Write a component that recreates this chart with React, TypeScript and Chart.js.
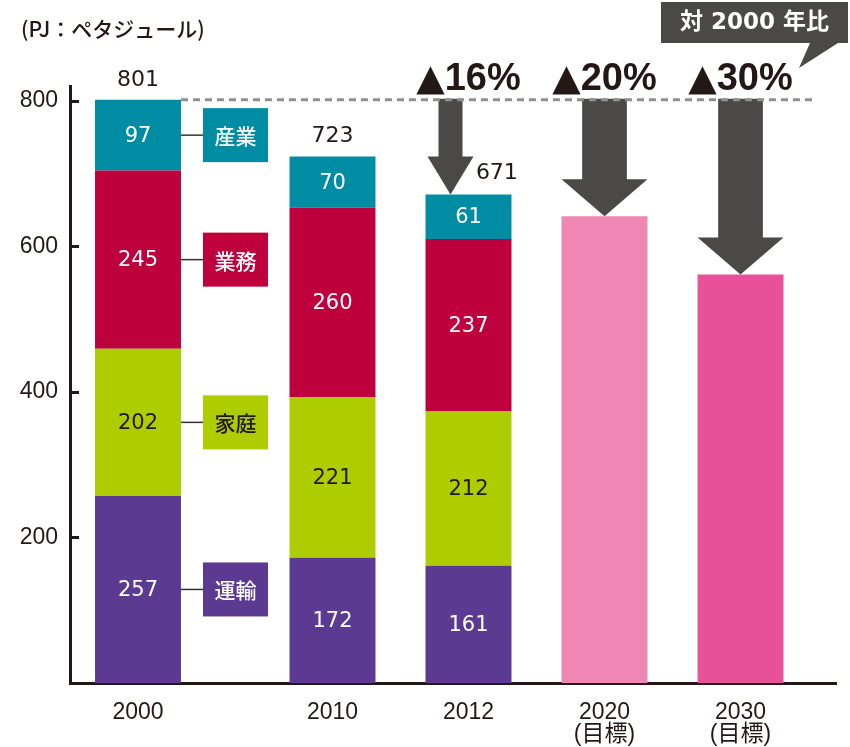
import React, { useEffect, useRef } from 'react';
import { Chart, registerables } from 'chart.js';

Chart.register(...registerables);

// ---------- data ----------
const categories = ['2000', '2010', '2012', '2020', '2030'];
const categorySubLabels = ['', '', '', '(目標)', '(目標)'];
const seriesNames = ['運輸', '家庭', '業務', '産業'];
const transport = [257, 172, 161, null, null];
const household = [202, 221, 212, null, null];
const commercial = [245, 260, 237, null, null];
const industry = [97, 70, 61, null, null];
const targets = [null, null, null, 641, 561];
const reductions = ['', '', '16%', '20%', '30%'];
const yTicks = [200, 400, 600, 800];
const unitLabel = '(PJ：ペタジュール)';
const calloutText = '対 2000 年比';

// ---------- styles ----------
const INK = '#231815';
const ARROW = '#4A4948';
const seriesColors = ['#5C3A91', '#AECD00', '#BE003C', '#008DA3'];
const seriesTextColors = ['#FFFFFF', INK, '#FFFFFF', '#FFFFFF'];
const targetColors = ['rgba(0,0,0,0)', 'rgba(0,0,0,0)', 'rgba(0,0,0,0)', '#EE87B4', '#E8519A'];
const LEGEND_GAP = 0.43; // extra room after the first category for the legend boxes
const slot = (i: number) => i + 0.5 + (i > 0 ? LEGEND_GAP : 0);

const seriesData = [transport, household, commercial, industry];

const overlayPlugin = {
  id: 'overlay',
  afterDatasetsDraw(chart: any) {
    const { ctx, chartArea, scales } = chart;
    const y = scales.y;
    const metas = [0, 1, 2, 3, 4].map((i) => chart.getDatasetMeta(i));
    ctx.save();

    // segment values
    seriesData.forEach((arr, si) => {
      arr.forEach((v, j) => {
        if (v == null) return;
        const bar = metas[si].data[j];
        ctx.font = '500 21px "DejaVu Sans"';
        ctx.fillStyle = seriesTextColors[si];
        ctx.textAlign = 'center';
        ctx.textBaseline = 'middle';
        ctx.fillText(String(v), bar.x, (bar.y + bar.base) / 2 + 1);
      });
    });

    // totals
    const totals = categories.map((_, j) =>
      seriesData.reduce((s, arr) => s + (arr[j] ?? 0), 0)
    );
    totals.forEach((t, j) => {
      if (!t) return;
      const bar = metas[3].data[j];
      const hasArrow = !!reductions[j];
      ctx.font = '22px "DejaVu Sans"';
      ctx.fillStyle = INK;
      ctx.textAlign = 'center';
      ctx.textBaseline = 'bottom';
      ctx.fillText(String(t), bar.x + (hasArrow ? bar.width * 0.33 : 0), bar.y - (hasArrow ? 10 : 9));
    });

    // legend boxes next to first bar
    seriesNames.forEach((name, si) => {
      const bar = metas[si].data[0];
      const right = bar.x + bar.width / 2;
      const cy = (bar.y + bar.base) / 2;
      ctx.strokeStyle = '#333333';
      ctx.lineWidth = 1.5;
      ctx.beginPath();
      ctx.moveTo(right, cy);
      ctx.lineTo(right + 22, cy);
      ctx.stroke();
      ctx.fillStyle = seriesColors[si];
      ctx.fillRect(right + 22, cy - 27, 65, 54);
      ctx.font = '500 21px "Noto Sans CJK JP"';
      ctx.fillStyle = seriesTextColors[si];
      ctx.textAlign = 'center';
      ctx.textBaseline = 'middle';
      ctx.fillText(name, right + 22 + 32.5, cy + 1);
    });

    // arrows
    const baseY = y.getPixelForValue(totals[0]);
    reductions.forEach((r, j) => {
      if (!r) return;
      const stacked = totals[j] > 0;
      const bar = stacked ? metas[3].data[j] : metas[4].data[j];
      let cx = bar.x;
      const top = bar.y;
      let shaftW, headW, headH;
      if (stacked) {
        shaftW = 24; headW = 46; headH = 38; cx -= 18;
      } else {
        shaftW = bar.width * 0.52; headW = bar.width; headH = 37;
      }
      ctx.fillStyle = ARROW;
      ctx.beginPath();
      ctx.moveTo(cx - shaftW / 2, baseY - 1);
      ctx.lineTo(cx + shaftW / 2, baseY - 1);
      ctx.lineTo(cx + shaftW / 2, top - headH);
      ctx.lineTo(cx + headW / 2, top - headH);
      ctx.lineTo(cx, top);
      ctx.lineTo(cx - headW / 2, top - headH);
      ctx.lineTo(cx - shaftW / 2, top - headH);
      ctx.closePath();
      ctx.fill();
    });

    // dashed baseline
    const b0 = metas[3].data[0];
    ctx.strokeStyle = '#8E8E8E';
    ctx.lineWidth = 3;
    ctx.setLineDash([7, 5]);
    ctx.beginPath();
    ctx.moveTo(b0.x + b0.width / 2, baseY);
    ctx.lineTo(chartArea.right - 24, baseY);
    ctx.stroke();
    ctx.setLineDash([]);

    // percentage labels
    reductions.forEach((r, j) => {
      if (!r) return;
      const stacked = totals[j] > 0;
      const bar = stacked ? metas[3].data[j] : metas[4].data[j];
      const triFont = 'bold 37px "DejaVu Sans"';
      const numFont = 'bold 38px "Liberation Sans"';
      ctx.font = triFont;
      const tw = ctx.measureText('▲').width;
      ctx.font = numFont;
      const nw = ctx.measureText(r).width;
      const gap = 0;
      const start = bar.x - (tw + gap + nw) / 2;
      ctx.fillStyle = INK;
      ctx.textAlign = 'left';
      ctx.textBaseline = 'alphabetic';
      ctx.font = triFont;
      ctx.fillText('▲', start, baseY - 10);
      ctx.font = numFont;
      ctx.fillText(r, start + tw + gap, baseY - 10);
    });

    // callout
    const cr = chart.width - 2;
    const cl = cr - 187;
    ctx.fillStyle = ARROW;
    ctx.beginPath();
    ctx.moveTo(cl, 2);
    ctx.lineTo(cr, 2);
    ctx.lineTo(cr, 43);
    ctx.lineTo(cr - 10, 43);
    ctx.lineTo(cr - 49, 68);
    ctx.lineTo(cr - 38, 43);
    ctx.lineTo(cl, 43);
    ctx.closePath();
    ctx.fill();
    ctx.fillStyle = '#FFFFFF';
    ctx.font = 'bold 23px "DejaVu Sans", "Noto Sans CJK JP"';
    ctx.textAlign = 'center';
    ctx.textBaseline = 'middle';
    ctx.fillText(calloutText, (cl + cr) / 2, 23);

    // inward y ticks
    ctx.strokeStyle = INK;
    ctx.lineWidth = 3;
    yTicks.forEach((v) => {
      const py = Math.round(y.getPixelForValue(v)) + 0.5;
      ctx.beginPath();
      ctx.moveTo(chartArea.left, py);
      ctx.lineTo(chartArea.left + 9, py);
      ctx.stroke();
    });

    // unit label
    ctx.fillStyle = INK;
    ctx.font = '500 21px "Noto Sans CJK JP"';
    ctx.textAlign = 'left';
    ctx.textBaseline = 'middle';
    ctx.fillText(unitLabel, 21, 29);

    ctx.restore();
  },
};

export default function App() {
  const ref = useRef<HTMLCanvasElement | null>(null);

  useEffect(() => {
    document.body.style.margin = '0';
    const canvas = ref.current;
    if (!canvas) return;

    const toPoints = (arr: (number | null)[]) =>
      arr.map((v, i) => ({ x: slot(i), y: v }));

    const datasets: any[] = seriesData.map((arr, si) => ({
      label: seriesNames[si],
      data: toPoints(arr),
      backgroundColor: seriesColors[si],
      borderWidth: 0,
    }));
    datasets.push({
      label: '目標',
      data: toPoints(targets),
      backgroundColor: targetColors,
      borderWidth: 0,
    });

    const chart = new Chart(canvas, {
      type: 'bar',
      data: { datasets },
      options: {
        animation: false,
        responsive: false,
        devicePixelRatio: 1,
        barPercentage: 0.632,
        categoryPercentage: 1,
        layout: { padding: { top: 86, right: 14, left: 0, bottom: 0 } },
        plugins: { legend: { display: false }, tooltip: { enabled: false } },
        scales: {
          x: {
            type: 'linear',
            stacked: true,
            offset: false,
            min: 0,
            max: 5.632,
            afterBuildTicks: (scale: any) => {
              scale.ticks = categories.map((_, i) => ({ value: slot(i) }));
            },
            afterFit: (scale: any) => {
              scale.height = 64;
            },
            grid: { display: false, drawTicks: false, tickLength: 0, offset: false },
            border: { display: true, width: 3, color: INK },
            ticks: {
              autoSkip: false,
              maxRotation: 0,
              padding: 19,
              color: INK,
              font: { family: '"Liberation Sans", "Noto Sans CJK JP"', size: 23, lineHeight: 0.95 },
              callback: (value: any) => {
                const i = categories.findIndex((_, k) => Math.abs(slot(k) - value) < 1e-6);
                if (i < 0) return '';
                return categorySubLabels[i] ? [categories[i], categorySubLabels[i]] : categories[i];
              },
            },
          },
          y: {
            stacked: true,
            min: 0,
            max: 820,
            afterBuildTicks: (scale: any) => {
              scale.ticks = yTicks.map((v) => ({ value: v }));
            },
            afterFit: (scale: any) => {
              scale.width = 70;
            },
            grid: { display: false, drawTicks: false, tickLength: 0 },
            border: { display: true, width: 3, color: INK },
            ticks: {
              padding: 12,
              color: INK,
              font: { family: '"Liberation Sans"', size: 23 },
              callback: (v: any) => String(v),
            },
          },
        },
      },
      plugins: [overlayPlugin],
    } as any);

    return () => chart.destroy();
  }, []);

  return (
    <div style={{ position: 'absolute', left: 0, top: 0, width: 850, height: 747 }}>
      <canvas ref={ref} width={850} height={747} style={{ display: 'block' }} />
    </div>
  );
}
